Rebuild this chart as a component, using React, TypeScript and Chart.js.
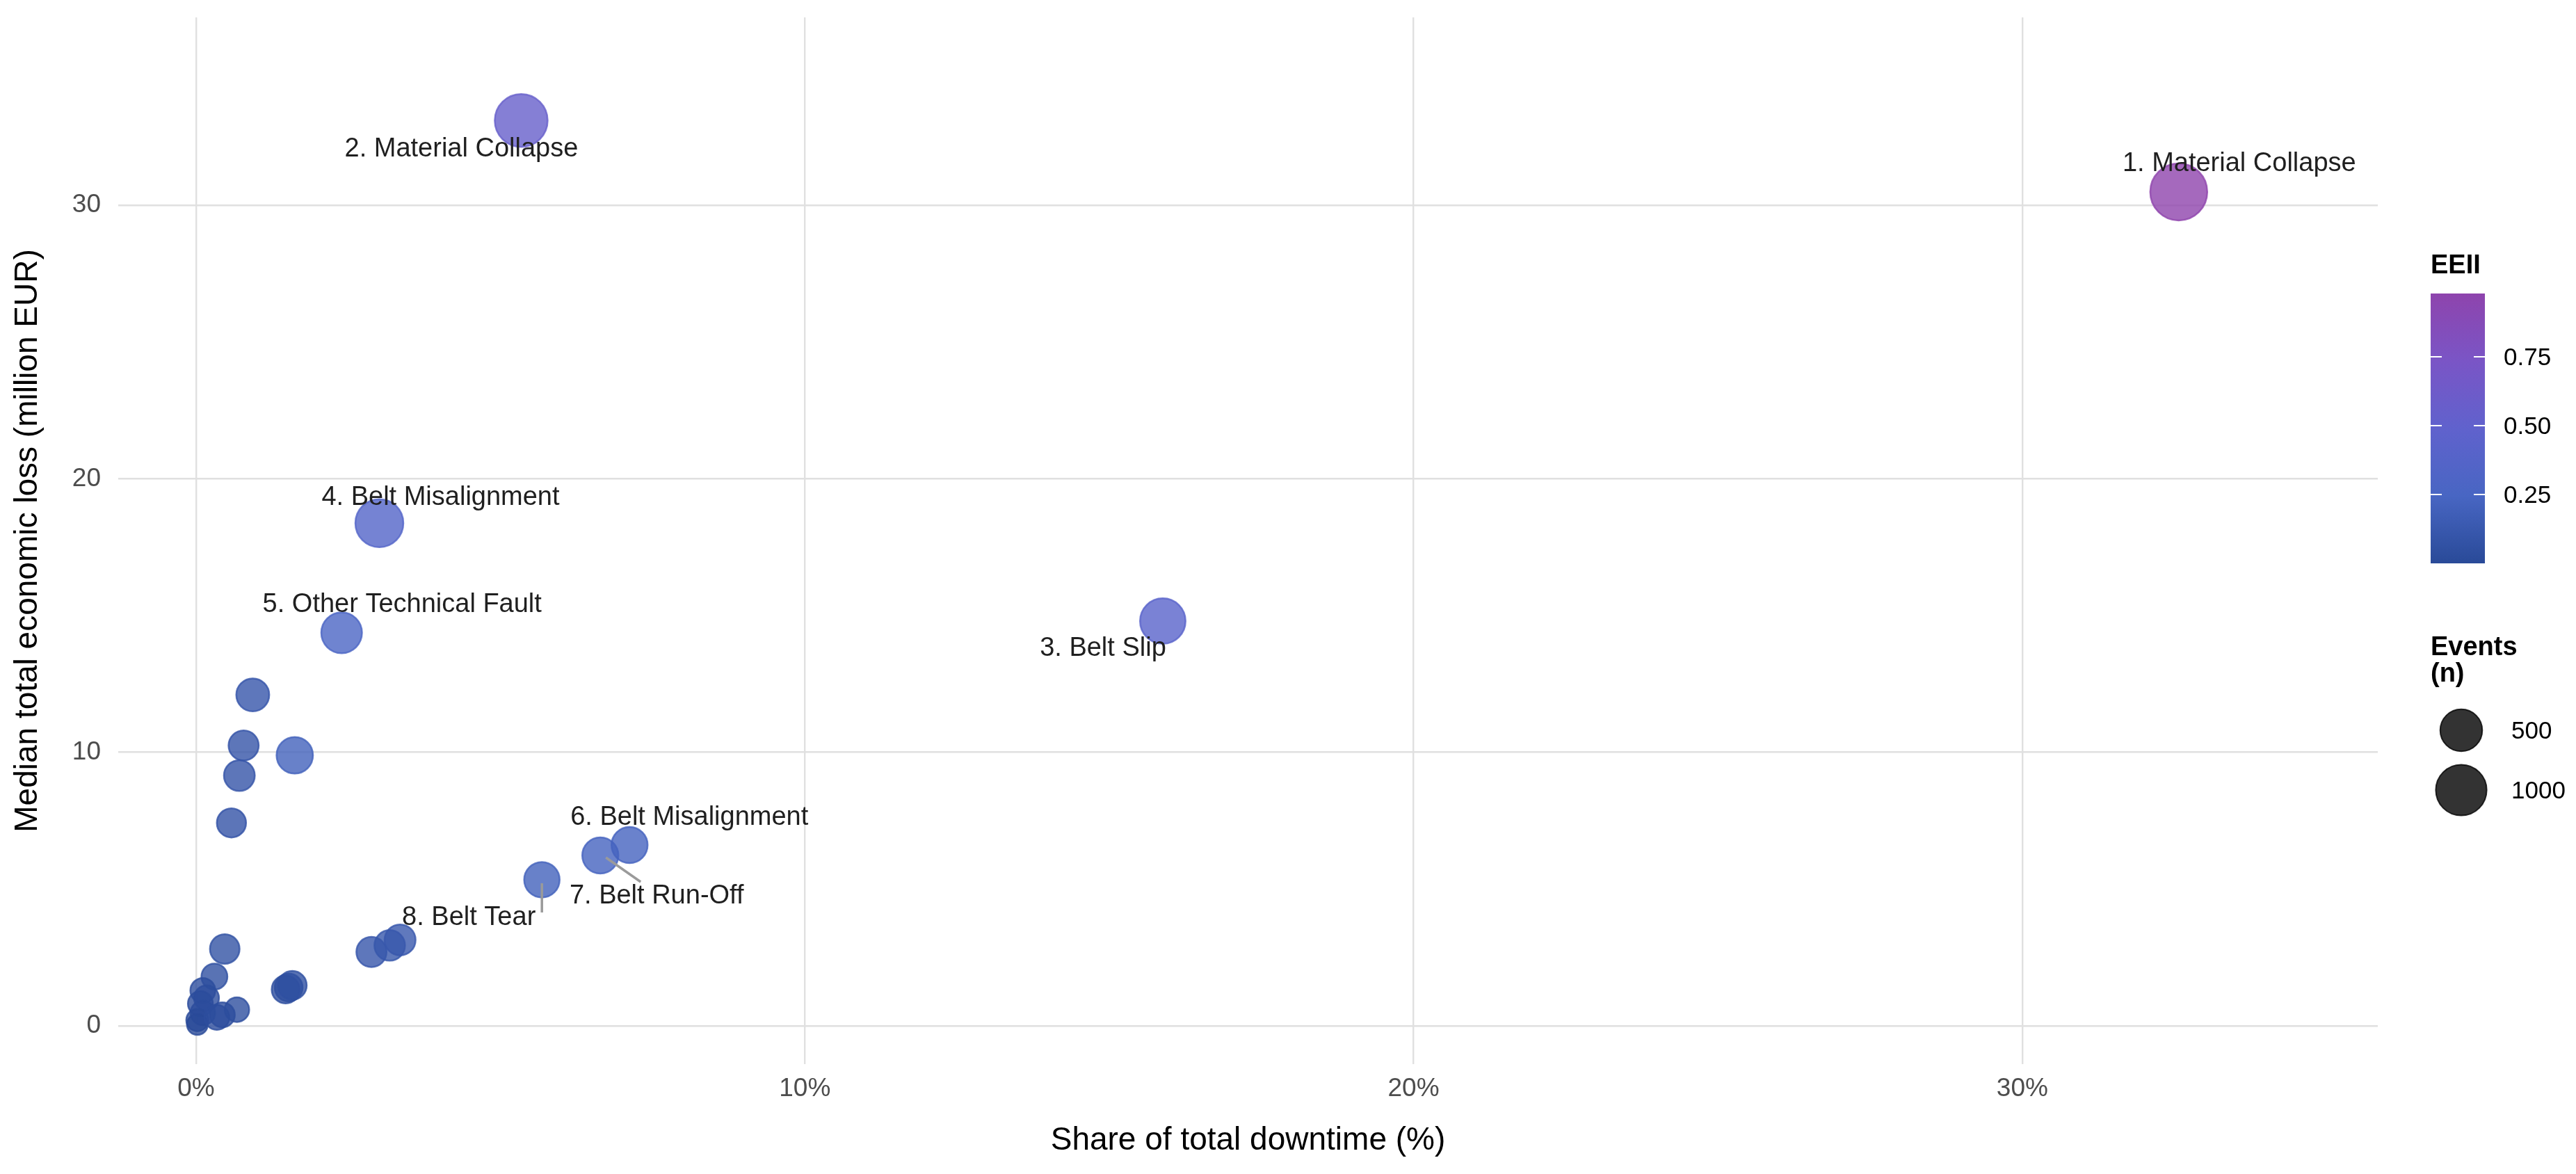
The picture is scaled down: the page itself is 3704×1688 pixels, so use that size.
import React, { useEffect, useRef } from 'react';
import { Chart, registerables } from 'chart.js';

Chart.register(...registerables);

const FONT = '"Liberation Sans", Arial, Helvetica, sans-serif';

// labelled causes (ranked by EEII)
const topCauses = [
  '1. Material Collapse',
  '2. Material Collapse',
  '3. Belt Slip',
  '4. Belt Misalignment',
  '5. Other Technical Fault',
  '6. Belt Misalignment',
  '7. Belt Run-Off',
  '8. Belt Tear',
];
const topShare = [32.57, 5.34, 15.88, 3.01, 2.39, 7.12, 6.64, 5.68];
const topLoss = [30.49, 33.1, 14.8, 18.38, 14.37, 6.61, 6.23, 5.34];
const topEvents = [1450, 1135, 672, 816, 439, 260, 260, 237];
const topEEII = [0.98, 0.55, 0.42, 0.36, 0.28, 0.22, 0.22, 0.2];

// remaining (unlabelled) causes
const otherShare = [0.93, 0.78, 1.62, 0.71, 0.58, 0.47, 0.3, 0.11, 0.17, 0.07, 0.11, 0.02, 0.02, 0.67, 0.43, 0.34, 1.47, 1.52, 1.58, 2.88, 3.18, 3.35];
const otherLoss = [12.1, 10.25, 9.89, 9.15, 7.42, 2.81, 1.8, 1.29, 1.02, 0.81, 0.47, 0.21, 0.05, 0.59, 0.4, 0.31, 1.33, 1.4, 1.48, 2.7, 2.94, 3.14];
const otherEvents = [163, 97, 270, 112, 78, 86, 30, 20, 20, 20, 16, 3, 1, 16, 20, 20, 55, 55, 70, 97, 106, 115];
const otherEEII = [0.1, 0.09, 0.2, 0.09, 0.08, 0.07, 0.05, 0.03, 0.03, 0.02, 0.02, 0.01, 0.0, 0.04, 0.03, 0.03, 0.04, 0.04, 0.05, 0.1, 0.11, 0.12];

const xTicks = [0, 10, 20, 30];
const yTicks = [0, 10, 20, 30];
const eeiiBreaks = [0.25, 0.5, 0.75];
const sizeBreaks = [500, 1000];

// label nudges in px (label centre relative to point) and optional leader segments
const labelNudges: [number, number][] = [
  [87, -40], [-86, 41], [-86, 40], [88, -37], [87, -40], [86, -39], [81, 59], [-105, 55],
];
const labelSegments: ([number, number, number, number] | null)[] = [
  null, null, null, null, null, null, [58, 38, 8, 3], [0, 47, 0, 5],
];

const colourStops: [number, string][] = [
  [0, '#294A98'],
  [0.25, '#4866C3'],
  [0.5, '#6062CD'],
  [0.75, '#7A55C6'],
  [1, '#8E44AD'],
];

const R_MIN = 15;
const R_MAX = 41;

const hexToRgb = (h: string) => [
  parseInt(h.slice(1, 3), 16),
  parseInt(h.slice(3, 5), 16),
  parseInt(h.slice(5, 7), 16),
];

const gradientAt = (t: number, alpha: number) => {
  const tt = Math.min(1, Math.max(0, t));
  let i = 0;
  while (i < colourStops.length - 2 && tt > colourStops[i + 1][0]) i++;
  const [t0, c0] = colourStops[i];
  const [t1, c1] = colourStops[i + 1];
  const f = (tt - t0) / (t1 - t0);
  const a = hexToRgb(c0);
  const b = hexToRgb(c1);
  const rgb = a.map((v, k) => Math.round(v + (b[k] - v) * f));
  return `rgba(${rgb[0]}, ${rgb[1]}, ${rgb[2]}, ${alpha})`;
};

const App: React.FC = () => {
  const canvasRef = useRef<HTMLCanvasElement>(null);
  const chartRef = useRef<Chart | null>(null);

  useEffect(() => {
    document.body.style.margin = '0';
    if (!canvasRef.current) return;

    const shares = [...otherShare, ...topShare];
    const losses = [...otherLoss, ...topLoss];
    const events = [...otherEvents, ...topEvents];
    const indices = [...otherEEII, ...topEEII];

    const nMin = Math.min(...events);
    const nMax = Math.max(...events);
    const eMin = Math.min(...indices);
    const eMax = Math.max(...indices);

    const radius = (n: number) => R_MIN + (R_MAX - R_MIN) * Math.sqrt(Math.max(0, n - nMin) / (nMax - nMin));
    const colour = (v: number, a: number) => gradientAt((v - eMin) / (eMax - eMin), a);

    const points = shares.map((x, i) => ({ x, y: losses[i], r: radius(events[i]) }));
    const fills = indices.map((v) => colour(v, 0.8));

    // labels, leader lines and the two legends
    const overlay = {
      id: 'overlay',
      afterDatasetsDraw(chart: Chart) {
        const { ctx } = chart;
        const xs = chart.scales.x;
        const ys = chart.scales.y;
        ctx.save();
        topCauses.forEach((_, i) => {
          const seg = labelSegments[i];
          if (!seg) return;
          const px = xs.getPixelForValue(topShare[i]);
          const py = ys.getPixelForValue(topLoss[i]);
          ctx.strokeStyle = '#9A9A9A';
          ctx.lineWidth = 3.5;
          ctx.beginPath();
          ctx.moveTo(px + seg[0], py + seg[1]);
          ctx.lineTo(px + seg[2], py + seg[3]);
          ctx.stroke();
        });
        ctx.font = `38px ${FONT}`;
        ctx.fillStyle = '#1F1F1F';
        ctx.textAlign = 'center';
        ctx.textBaseline = 'middle';
        topCauses.forEach((label, i) => {
          const px = xs.getPixelForValue(topShare[i]);
          const py = ys.getPixelForValue(topLoss[i]);
          ctx.fillText(label, px + labelNudges[i][0], py + labelNudges[i][1]);
        });
        ctx.restore();
      },
      afterDraw(chart: Chart) {
        const { ctx } = chart;
        const lx = chart.chartArea.right + 76;
        ctx.save();

        // EEII colour bar
        ctx.fillStyle = '#000';
        ctx.textAlign = 'left';
        ctx.textBaseline = 'alphabetic';
        ctx.font = `bold 38px ${FONT}`;
        ctx.fillText('EEII', lx, 393);

        const barTop = 422;
        const barH = 388;
        const barW = 78;
        const grad = ctx.createLinearGradient(0, barTop + barH, 0, barTop);
        colourStops.forEach(([t, c]) => grad.addColorStop(t, c));
        ctx.fillStyle = grad;
        ctx.fillRect(lx, barTop, barW, barH);

        ctx.font = `35px ${FONT}`;
        ctx.textBaseline = 'middle';
        eeiiBreaks.forEach((b) => {
          const y = barTop + barH - ((b - eMin) / (eMax - eMin)) * barH;
          ctx.strokeStyle = '#FFFFFF';
          ctx.lineWidth = 2;
          ctx.beginPath();
          ctx.moveTo(lx, y);
          ctx.lineTo(lx + 16, y);
          ctx.moveTo(lx + barW - 16, y);
          ctx.lineTo(lx + barW, y);
          ctx.stroke();
          ctx.fillStyle = '#000';
          ctx.fillText(b.toFixed(2), lx + 105, y + 2);
        });

        // size legend
        ctx.textBaseline = 'alphabetic';
        ctx.font = `bold 38px ${FONT}`;
        ctx.fillText('Events', lx, 942);
        ctx.fillText('(n)', lx, 980);

        const keyY = [1050, 1136];
        ctx.font = `35px ${FONT}`;
        ctx.textBaseline = 'middle';
        sizeBreaks.forEach((n, i) => {
          const r = radius(n);
          ctx.beginPath();
          ctx.arc(lx + 44, keyY[i], r, 0, Math.PI * 2);
          ctx.fillStyle = 'rgba(0, 0, 0, 0.8)';
          ctx.fill();
          ctx.strokeStyle = 'rgba(0, 0, 0, 0.8)';
          ctx.lineWidth = 2;
          ctx.stroke();
          ctx.fillStyle = '#000';
          ctx.fillText(String(n), lx + 116, keyY[i] + 2);
        });
        ctx.restore();
      },
    };

    if (chartRef.current) chartRef.current.destroy();

    chartRef.current = new Chart(canvasRef.current, {
      type: 'bubble',
      data: {
        datasets: [
          {
            data: points,
            backgroundColor: fills,
            borderColor: fills,
            borderWidth: 2.5,
            hoverRadius: 0,
          },
        ],
      },
      options: {
        animation: false,
        responsive: true,
        maintainAspectRatio: false,
        events: [],
        layout: { autoPadding: false, padding: { left: 0, top: 25, right: 285, bottom: 0 } },
        plugins: {
          legend: { display: false },
          tooltip: { enabled: false },
        },
        scales: {
          x: {
            type: 'linear',
            min: -1.28,
            max: 35.84,
            afterBuildTicks: (scale: any) => {
              scale.ticks = xTicks.map((value) => ({ value }));
            },
            afterFit: (scale: any) => {
              // fixed panel: keep tick-label overflow out of the layout
              scale.height = 158;
              scale.paddingLeft = 0;
              scale.paddingRight = 0;
            },
            grid: { color: '#E0E0E0', lineWidth: 2.4, drawTicks: false },
            border: { display: false },
            ticks: {
              padding: 14,
              color: '#4D4D4D',
              font: { family: FONT, size: 37 },
              callback: (v: any) => `${v}%`,
            },
            title: {
              display: true,
              text: 'Share of total downtime (%)',
              color: '#000',
              font: { family: FONT, size: 46 },
              padding: { top: 0, bottom: 20 },
            },
          },
          y: {
            type: 'linear',
            min: -1.4,
            max: 36.87,
            afterBuildTicks: (scale: any) => {
              scale.ticks = yTicks.map((value) => ({ value }));
            },
            afterFit: (scale: any) => {
              scale.width = 170;
              scale.paddingTop = 0;
              scale.paddingBottom = 0;
            },
            grid: { color: '#E0E0E0', lineWidth: 2.4, drawTicks: false },
            border: { display: false },
            ticks: {
              padding: 25,
              color: '#4D4D4D',
              font: { family: FONT, size: 37 },
              callback: (v: any) => String(v),
            },
            title: {
              display: true,
              text: 'Median total economic loss (million EUR)',
              color: '#000',
              font: { family: FONT, size: 46 },
              padding: { top: 13, bottom: 0 },
            },
          },
        },
      },
      plugins: [overlay],
    });

    return () => {
      if (chartRef.current) {
        chartRef.current.destroy();
        chartRef.current = null;
      }
    };
  }, []);

  return (
    <div style={{ width: 3704, height: 1688, position: 'relative', background: '#ffffff' }}>
      <canvas ref={canvasRef}></canvas>
    </div>
  );
};

export default App;
